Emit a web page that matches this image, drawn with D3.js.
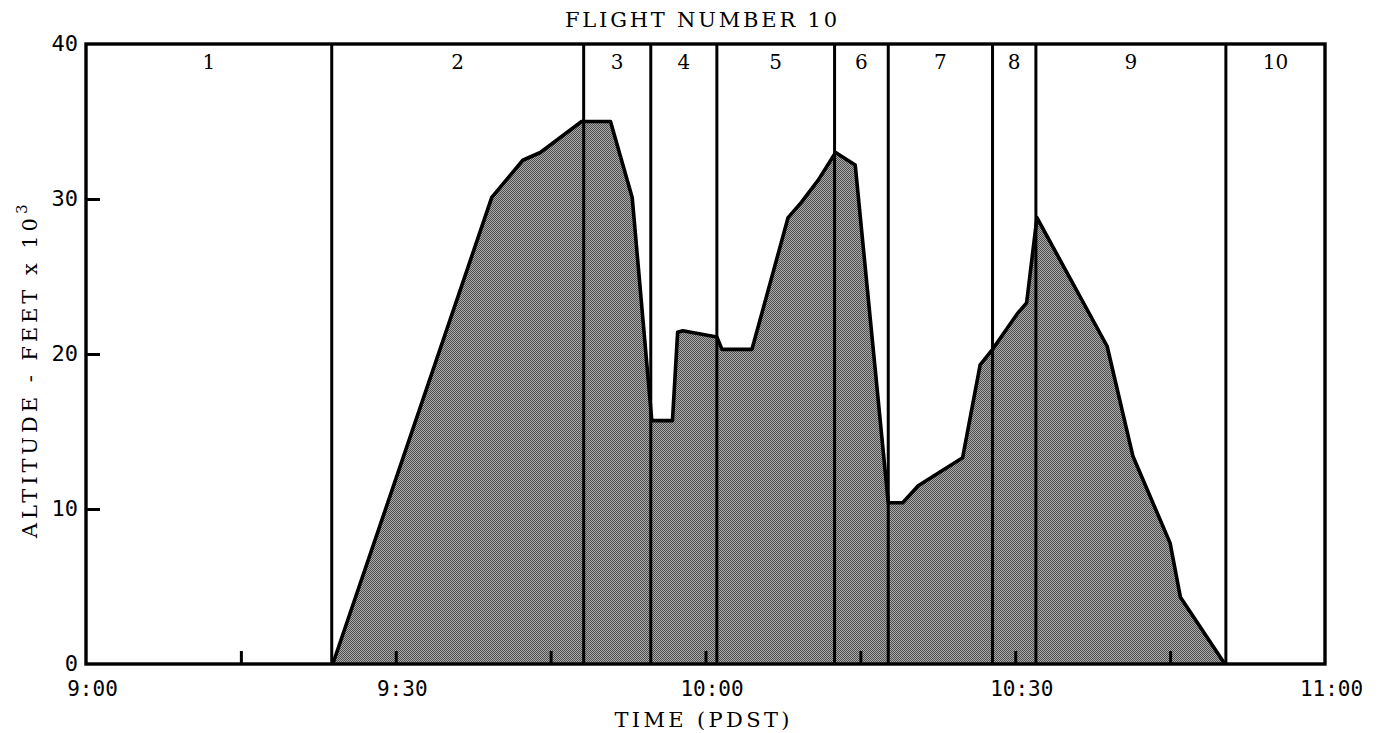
<!DOCTYPE html>
<html>
<head>
<meta charset="utf-8">
<script src="https://cdn.jsdelivr.net/npm/d3@7/dist/d3.min.js"></script>
<style>
  html, body { margin: 0; padding: 0; background: #fff; }
  svg { display: block; }
</style>
</head>
<body>
<svg id="chart" width="1377" height="733"></svg>
<script>
// ---- data (minutes after 9:00 PDST, altitude in thousands of feet) ----
const profileMinutes = [23.9, 39.3, 42.3, 44.0, 48.0, 50.8, 52.9, 54.8, 56.8, 57.3, 57.8, 61.1, 61.6, 64.5, 68.0, 69.3, 70.9, 72.6, 74.5, 77.7, 79.1, 80.6, 84.9, 86.6, 87.8, 90.2, 91.1, 92.1, 98.9, 101.4, 105.0, 106.0, 110.3];
const profileAltitude = [0, 30.1, 32.5, 33.0, 35.0, 35.0, 30.1, 15.7, 15.7, 21.4, 21.5, 21.1, 20.3, 20.3, 28.8, 29.8, 31.2, 33.0, 32.2, 10.4, 10.4, 11.5, 13.3, 19.3, 20.3, 22.6, 23.3, 28.8, 20.5, 13.4, 7.8, 4.3, 0];
const phaseBoundaries = [23.8, 48.2, 54.7, 61.1, 72.5, 77.7, 87.8, 92.0, 110.4];
const phaseLabels = ["1", "2", "3", "4", "5", "6", "7", "8", "9", "10"];
const xTickValues = [0, 30, 60, 90, 120];
const xTickLabels = ["9:00", "9:30", "10:00", "10:30", "11:00"];
const xMinorTicks = [15, 30, 45, 60, 75, 90, 105];
const yTickValues = [0, 10, 20, 30, 40];
const yTickLabels = ["0", "10", "20", "30", "40"];
const yMinorTicks = [10, 20, 30];
const titleText = "FLIGHT NUMBER 10";
const xAxisTitle = "TIME (PDST)";
const yAxisTitle = "ALTITUDE - FEET x 10";
const yAxisSup = "3";

// ---- layout ----
const svg = d3.select("#chart");
const L = 86, R = 1325, T = 44, B = 664;
const x = d3.scaleLinear().domain([0, 120]).range([L, R]);
const y = d3.scaleLinear().domain([0, 40]).range([B, T]);

const defs = svg.append("defs");
const pat = defs.append("pattern").attr("id", "dither")
  .attr("patternUnits", "userSpaceOnUse").attr("width", 4).attr("height", 4);
pat.append("rect").attr("width", 4).attr("height", 4).attr("fill", "#ababab");
[[0,0],[2,0],[1,1],[3,1],[0,2],[2,2],[1,3],[3,3]].forEach(([px, py]) => {
  pat.append("rect").attr("x", px).attr("y", py).attr("width", 1).attr("height", 1)
    .attr("fill", "#4e4e4e").attr("shape-rendering", "crispEdges");
});

const pts = profileMinutes.map((m, i) => [m, profileAltitude[i]]);

// filled area
const area = d3.area().x(d => x(d[0])).y0(y(0)).y1(d => y(d[1]));
svg.append("path").datum(pts).attr("d", area).attr("fill", "url(#dither)");

// phase boundary lines
svg.append("g").selectAll("line").data(phaseBoundaries).join("line")
  .attr("x1", d => x(d)).attr("x2", d => x(d))
  .attr("y1", y(40)).attr("y2", y(0))
  .attr("stroke", "#000").attr("stroke-width", 3);

// profile outline
const line = d3.line().x(d => x(d[0])).y(d => y(d[1]));
svg.append("path").datum(pts).attr("d", line)
  .attr("fill", "none").attr("stroke", "#000").attr("stroke-width", 3.6)
  .attr("stroke-linejoin", "round");

// frame
svg.append("rect").attr("x", L).attr("y", T).attr("width", R - L).attr("height", B - T)
  .attr("fill", "none").attr("stroke", "#000").attr("stroke-width", 3.4);

// phase labels
const edges = [0].concat(phaseBoundaries, [120]);
svg.append("g").selectAll("text").data(phaseLabels).join("text")
  .attr("x", (d, i) => x((edges[i] + edges[i + 1]) / 2))
  .attr("y", 69)
  .attr("text-anchor", "middle")
  .attr("font-family", "DejaVu Serif, serif")
  .attr("font-size", 20)
  .text(d => d);

// minor inward ticks
const xAxisMinor = d3.axisBottom(x).tickValues(xMinorTicks).tickSize(-13).tickFormat("");
const gxm = svg.append("g").attr("transform", `translate(0,${B})`).call(xAxisMinor);
gxm.select(".domain").remove();
gxm.selectAll("line").attr("stroke", "#000").attr("stroke-width", 3);

const yAxisMinor = d3.axisLeft(y).tickValues(yMinorTicks).tickSize(-14).tickFormat("");
const gym = svg.append("g").attr("transform", `translate(${L},0)`).call(yAxisMinor);
gym.select(".domain").remove();
gym.selectAll("line").attr("stroke", "#000").attr("stroke-width", 3);

// x tick labels
const xAxis = d3.axisBottom(x).tickValues(xTickValues).tickSize(0)
  .tickFormat((d, i) => xTickLabels[i]).tickPadding(0);
const gx = svg.append("g").attr("transform", `translate(6,${B})`).call(xAxis);
gx.select(".domain").remove();
gx.selectAll("text").attr("font-family", "DejaVu Sans Mono, monospace").attr("font-size", 21)
  .attr("fill", "#000").attr("dy", null).attr("y", 32);

// y tick labels
const yAxis = d3.axisLeft(y).tickValues(yTickValues).tickSize(0)
  .tickFormat((d, i) => yTickLabels[i]).tickPadding(0);
const gy = svg.append("g").attr("transform", `translate(${L - 8},0)`).call(yAxis);
gy.select(".domain").remove();
gy.selectAll("text").attr("font-family", "DejaVu Sans Mono, monospace").attr("font-size", 22)
  .attr("fill", "#000").attr("dy", "0.3em");

// title
svg.append("text").attr("x", 701).attr("y", 27).attr("text-anchor", "middle")
  .attr("font-family", "DejaVu Serif, serif").attr("font-size", 21)
  .attr("textLength", 272).attr("lengthAdjust", "spacing")
  .text(titleText);

// x axis title
svg.append("text").attr("x", 702).attr("y", 727).attr("text-anchor", "middle")
  .attr("font-family", "DejaVu Serif, serif").attr("font-size", 21)
  .attr("textLength", 175).attr("lengthAdjust", "spacing")
  .text(xAxisTitle);

// y axis title
svg.append("text").attr("transform", "translate(37,538) rotate(-90)")
  .attr("text-anchor", "start")
  .attr("font-family", "DejaVu Serif, serif").attr("font-size", 21)
  .attr("textLength", 320).attr("lengthAdjust", "spacing")
  .text(yAxisTitle);
svg.append("text").attr("transform", "translate(27,214) rotate(-90)")
  .attr("text-anchor", "start")
  .attr("font-family", "DejaVu Serif, serif").attr("font-size", 15)
  .text(yAxisSup);
</script>
</body>
</html>
